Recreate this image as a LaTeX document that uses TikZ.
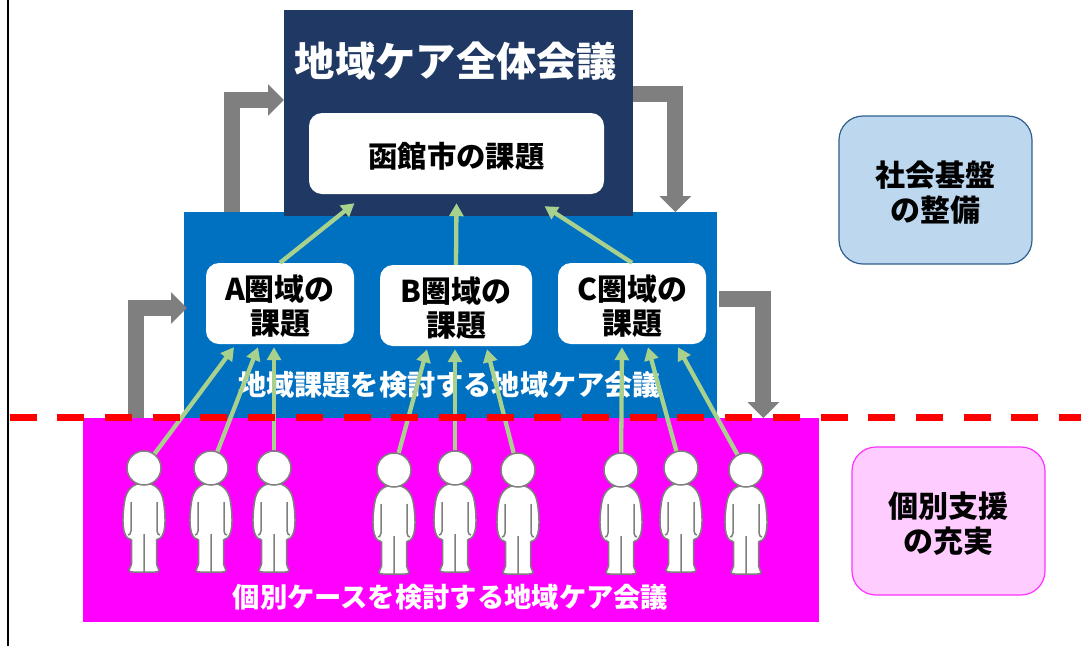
\documentclass[tikz,border=0pt]{standalone}
\usepackage{fontspec}
\setmainfont{Noto Sans CJK JP}
\usetikzlibrary{arrows.meta}
\definecolor{navybox}{HTML}{1F3864}
\definecolor{bluebox}{HTML}{0070C0}
\definecolor{pinkbox}{HTML}{FF00FF}
\definecolor{paleblue}{HTML}{BDD7EE}
\definecolor{palepink}{HTML}{FFCCFF}
\definecolor{edgeblue}{HTML}{2F5F8F}
\definecolor{edgepink}{HTML}{FF33FF}
\definecolor{grayarrow}{HTML}{7F7F7F}
\definecolor{greenarrow}{HTML}{A9D18E}
\def\upstrut{\rule{0pt}{1.03em}}
\tikzset{
  mtgbox/.style={inner sep=0pt,anchor=north west},
  mtglabel/.style={font=\fontsize{#1}{34}\selectfont\bfseries,text=white},
  taskbox/.style={fill=white,rounded corners=13pt,inner sep=0pt,align=center,font=\fontsize{30}{34.5}\selectfont\bfseries},
  sidebox/.style={rounded corners=24pt,inner sep=0pt,line width=1.2pt,minimum width=193pt,minimum height=148pt,align=center,
    font=\fontsize{30}{35}\selectfont\bfseries},
  bentarrow/.style={draw=grayarrow,line width=16pt,-{Triangle[length=16pt,width=31pt]}},
  uparrow/.style={draw=greenarrow,line width=4.3pt,-{Triangle[length=13pt,width=14pt]}},
  headdot/.style={circle,draw=grayarrow,fill=white,line width=1.5pt,minimum size=34pt,inner sep=0pt},
  personfig/.pic={
    \draw[grayarrow,fill=white,line width=1.5pt] (0,15) .. controls (-11,15) and (-18,22) .. (-19.5,34)
      .. controls (-21,44) and (-21.5,54) .. (-20.5,60) .. controls (-20,66) and (-17,71) .. (-14,71)
      -- (-12.5,72) -- (-12.5,96) .. controls (-12.5,99) and (-15,100) .. (-15,102)
      .. controls (-15,104) and (-13,104) .. (-11,104) -- (11,104)
      .. controls (13,104) and (15,104) .. (15,102) .. controls (15,100) and (12.5,99) .. (12.5,96)
      -- (12.5,72) -- (14,71) .. controls (17,71) and (20,66) .. (20.5,60)
      .. controls (21.5,54) and (21,44) .. (19.5,34) .. controls (18,22) and (11,15) .. (0,15) -- cycle;
    \draw[grayarrow,line width=1.5pt] (-13,34) -- (-13,63) .. controls (-13,66) and (-15,67) .. (-16,67)
      (13,34) -- (13,63) .. controls (13,66) and (15,67) .. (16,67) (0,66) -- (0,104);
    \node[headdot] (-head) at (0,0) {};
  }
}
\begin{document}
\begin{tikzpicture}[x=1pt,y=-1pt]
\useasboundingbox (0,0) rectangle (1081,646);
\draw[line width=1.6pt] (8,0) -- (8,646);
\node[mtgbox,fill=bluebox,minimum width=533pt,minimum height=206pt] (areaMtg) at (184,212) {};
\node[mtgbox,fill=navybox,minimum width=349pt,minimum height=206pt] (topMtg) at (284,10) {};
\node[mtgbox,fill=pinkbox,minimum width=736pt,minimum height=204pt] (caseMtg) at (83,418) {};
\node[font=\fontsize{40.3}{48}\selectfont\bfseries,text=white] (topLabel) at (456,61) {地域ケア全体会議};
\node[mtglabel=28.2] (areaLabel) at (449.5,385) {地域課題を検討する地域ケア会議};
\node[mtglabel=27.3] (caseLabel) at (450.5,597) {個別ケースを検討する地域ケア会議};
\node[taskbox,minimum width=295pt,minimum height=81pt,font=\fontsize{29.4}{34}\selectfont\bfseries] (cityTask) at (456.5,153.5) {\upstrut 函館市の課題};
\node[taskbox,minimum width=148pt,minimum height=81pt] (taskA) at (280,303.5) {\upstrut A圏域の\\課題};
\node[taskbox,minimum width=152pt,minimum height=81pt] (taskB) at (456,305.5) {\upstrut B圏域の\\課題};
\node[taskbox,minimum width=148pt,minimum height=81pt] (taskC) at (632,303.5) {\upstrut C圏域の\\課題};
\node[sidebox,draw=edgeblue,fill=paleblue] (baseBox) at (935.5,190) {\upstrut 社会基盤\\の整備};
\node[sidebox,draw=edgepink,fill=palepink] (supportBox) at (948.5,521) {\upstrut 個別支援\\の充実};
% gray arrows
\draw[bentarrow] ([xshift=48pt]areaMtg.north west) |- ([yshift=-90pt]topMtg.north west);
\draw[bentarrow] ([xshift=53pt]caseMtg.north west) |- ([xshift=3pt,yshift=-96pt]areaMtg.north west);
\draw[bentarrow] ([yshift=-84pt]topMtg.north east) -| ([xshift=-42pt]areaMtg.north east);
\draw[bentarrow] ([xshift=2pt,yshift=-87pt]areaMtg.north east) -| ([xshift=-56pt]caseMtg.north east);
% people
\foreach \nm/\px/\py in {p1/144/468,p2/211/468,p3/274/468,p4/394/470,p5/455/468,p6/518/470,p7/621/470,p8/681/468,p9/746/470}
  \pic (\nm) at (\px,\py) {personfig};
% green arrows
\foreach \nm/\tgt/\dx in {p1/taskA/-46,p2/taskA/-22,p3/taskA/-6,p4/taskB/-29,p5/taskB/-1,p6/taskB/31,p7/taskC/-10,p8/taskC/16,p9/taskC/46}
  \draw[uparrow] (\nm-head) -- ([xshift=\dx pt,yshift=-3pt]\tgt.south);
\draw[uparrow] (taskA.north) -- ([xshift=-102pt,yshift=-9pt]cityTask.south);
\draw[uparrow] (taskB.north) -- ([xshift=0pt,yshift=-9pt]cityTask.south);
\draw[uparrow] (taskC.north) -- ([xshift=88pt,yshift=-12pt]cityTask.south);
% boundary
\coordinate (lineL) at (9.6,417.5);
\coordinate (lineR) at (1081,417.5);
\draw[red,line width=7pt,dash pattern=on 27pt off 20.7pt] (lineL) -- (lineR);
\end{tikzpicture}
\end{document}
